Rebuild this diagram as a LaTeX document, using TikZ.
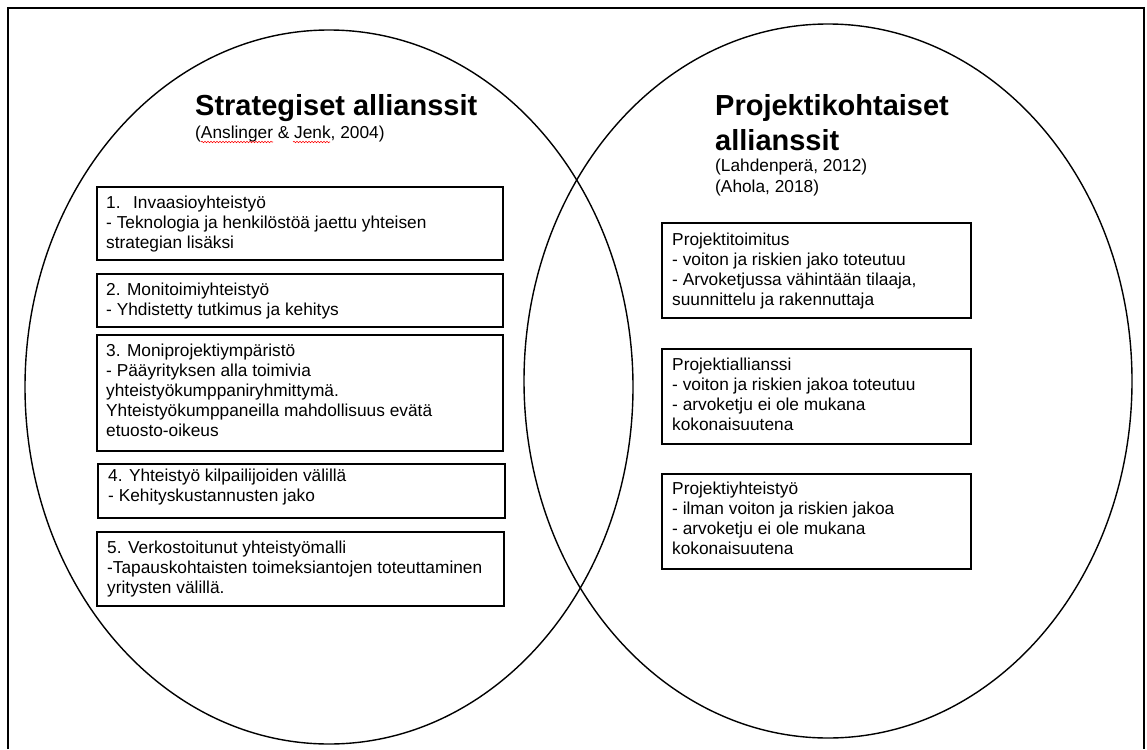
\documentclass[tikz,border=0pt]{standalone}
\usepackage{fontspec}
\setmainfont{Liberation Sans}
\usetikzlibrary{shapes.geometric,decorations.pathmorphing}
\begin{document}
\begin{tikzpicture}[x=1pt,y=-1pt,
  ring/.style={draw=black,line width=1.4pt,ellipse,inner sep=0pt,
    minimum width=608pt,minimum height=714pt},
  card/.style={draw=black,line width=1.8pt,rectangle,inner sep=0pt,anchor=north west},
  cardtext/.style={anchor=north west,inner sep=0pt,align=left,
    font=\fontsize{17.3}{20}\selectfont},
  headline/.style={anchor=base west,inner sep=0pt,
    font=\fontsize{29}{35}\selectfont\bfseries},
  source/.style={anchor=base west,inner sep=0pt,font=\fontsize{17.3}{20}\selectfont},
  spell/.style={draw=red,line width=0.6pt,decorate,
    decoration={snake,amplitude=0.7pt,segment length=3pt}}]

% page and outer frame
\useasboundingbox (0,0) rectangle (1147,749);
\fill[white] (0,0) rectangle (1147,749);
\draw[line width=1.4pt] (8,749) -- (8,8) -- (1144,8) -- (1144,749);

% the two overlapping sets
\node[ring] (strategic) at (329,387) {};
\node[ring] (project) at (828,381) {};

% headings
\node[headline] (stitle) at (195,115) {Strategiset allianssit};
\node[source] (ssource) at (195,138) {(Anslinger \& Jenk, 2004)};
\draw[spell] (201,142) -- (273,142);
\draw[spell] (293,142) -- (330,142);

\node[headline] (ptitle1) at (715,115) {Projektikohtaiset};
\node[headline] (ptitle2) at (715,150) {allianssit};
\node[source] (psource1) at (715,171) {(Lahdenperä, 2012)};
\node[source] (psource2) at (715,192) {(Ahola, 2018)};

% strategic alliance types
\node[card,minimum width=406pt,minimum height=73pt] (s1) at (96,186) {};
\node[cardtext] (s1t) at (106,194) {\strut\makebox[27pt][l]{1.}Invaasioyhteistyö\\
- Teknologia ja henkilöstöä jaettu yhteisen\\strategian lisäksi};

\node[card,minimum width=406pt,minimum height=53pt] (s2) at (96,273) {};
\node[cardtext] (s2t) at (106,281) {\strut 2. Monitoimiyhteistyö\\
- Yhdistetty tutkimus ja kehitys};

\node[card,minimum width=406pt,minimum height=116pt] (s3) at (96,334) {};
\node[cardtext] (s3t) at (106,342) {\strut 3. Moniprojektiympäristö\\
- Pääyrityksen alla toimivia\\yhteistyökumppaniryhmittymä.\\
Yhteistyökumppaneilla mahdollisuus evätä\\etuosto-oikeus};

\node[card,minimum width=407pt,minimum height=54pt] (s4) at (97,463) {};
\node[cardtext] (s4t) at (108,467) {\strut 4. Yhteistyö kilpailijoiden välillä\\
- Kehityskustannusten jako};

\node[card,minimum width=407pt,minimum height=74pt] (s5) at (96,531) {};
\node[cardtext] (s5t) at (107,539) {\strut 5. Verkostoitunut yhteistyömalli\\
-Tapauskohtaisten toimeksiantojen toteuttaminen\\yritysten välillä.};

% project alliance types
\node[card,minimum width=309pt,minimum height=95pt] (p1) at (661,222) {};
\node[cardtext] (p1t) at (672,231) {\strut Projektitoimitus\\
- voiton ja riskien jako toteutuu\\
- Arvoketjussa vähintään tilaaja,\\suunnittelu ja rakennuttaja};

\node[card,minimum width=309pt,minimum height=95pt] (p2) at (661,348) {};
\node[cardtext] (p2t) at (672,356) {\strut Projektiallianssi\\
- voiton ja riskien jakoa toteutuu\\
- arvoketju ei ole mukana\\kokonaisuutena};

\node[card,minimum width=309pt,minimum height=95pt] (p3) at (661,473) {};
\node[cardtext] (p3t) at (672,480) {\strut Projektiyhteistyö\\
- ilman voiton ja riskien jakoa\\
- arvoketju ei ole mukana\\kokonaisuutena};
\end{tikzpicture}
\end{document}
